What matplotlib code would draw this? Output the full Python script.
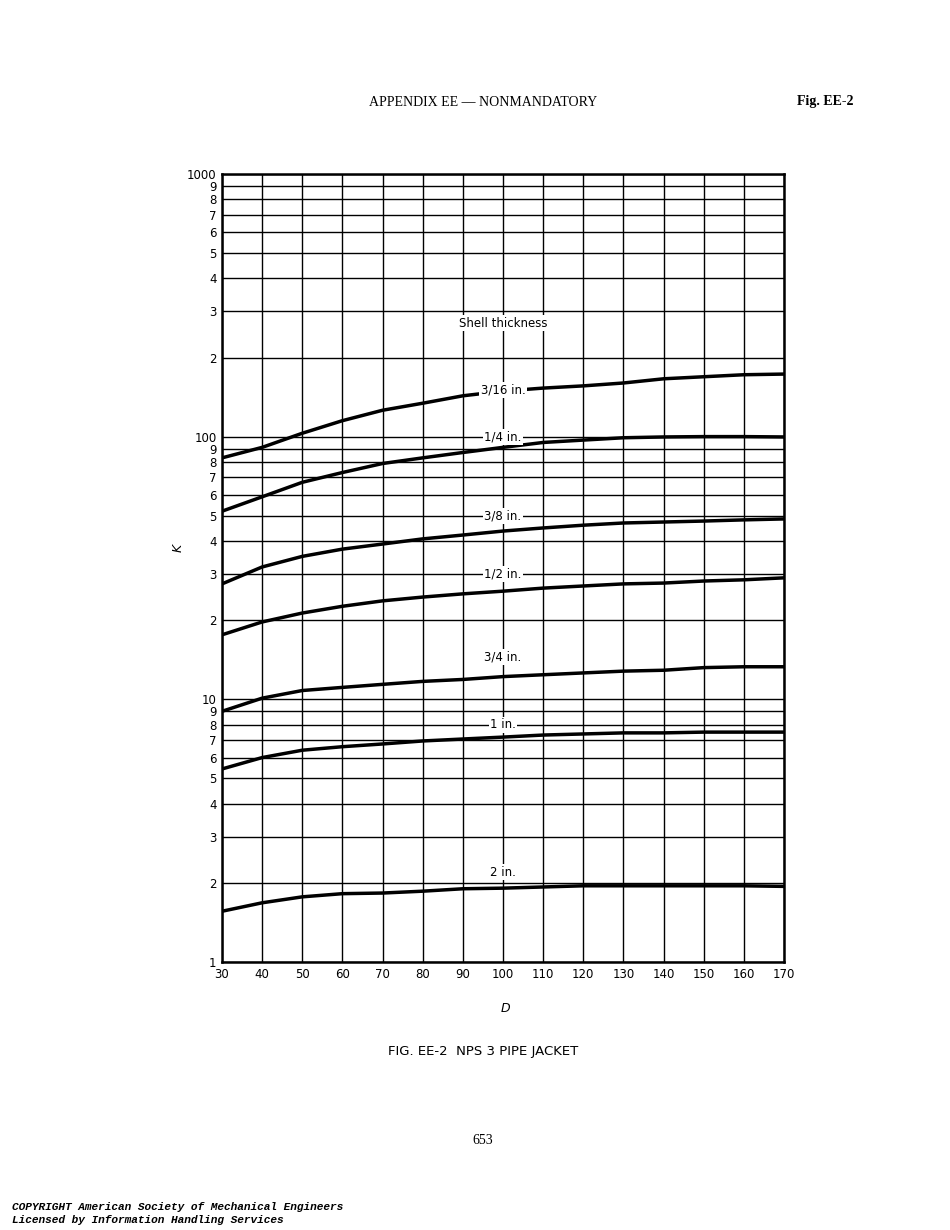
import matplotlib
matplotlib.use("Agg")
import matplotlib.pyplot as plt
import numpy as np

D = [30, 40, 50, 60, 70, 80, 90, 100, 110, 120, 130, 140, 150, 160, 170]
k_3_16 = [83, 91, 103, 115, 126, 134, 143, 149, 153, 156, 160, 166, 169, 172, 173]
k_1_4 = [52, 59, 67, 73, 79, 83, 87, 91, 95, 97, 99, 99.7, 100, 100, 99.7]
k_3_8 = [27.5, 31.9, 35, 37.3, 39, 40.8, 42.2, 43.7, 44.9, 46, 46.9, 47.3, 47.7, 48.2, 48.6]
k_1_2 = [17.6, 19.7, 21.3, 22.6, 23.7, 24.5, 25.2, 25.8, 26.5, 27, 27.5, 27.7, 28.2, 28.5, 29]
k_3_4 = [9.0, 10.1, 10.8, 11.1, 11.4, 11.7, 11.9, 12.2, 12.4, 12.6, 12.8, 12.9, 13.2, 13.3, 13.3]
k_1 = [5.43, 6.0, 6.4, 6.6, 6.76, 6.94, 7.06, 7.18, 7.31, 7.38, 7.45, 7.45, 7.5, 7.5, 7.5]
k_2 = [1.56, 1.68, 1.77, 1.82, 1.83, 1.86, 1.9, 1.91, 1.93, 1.95, 1.95, 1.95, 1.95, 1.95, 1.94]
series = [("3/16 in.", k_3_16), ("1/4 in.", k_1_4), ("3/8 in.", k_3_8), ("1/2 in.", k_1_2),
          ("3/4 in.", k_3_4), ("1 in.", k_1), ("2 in.", k_2)]
label_y = [150, 100, 50, 30, 14.5, 8.0, 2.2]
x_ticks = [30, 40, 50, 60, 70, 80, 90, 100, 110, 120, 130, 140, 150, 160, 170]

fig = plt.figure(figsize=(9.5, 12.3), dpi=100)
ax = fig.add_axes([0.2337, 0.2179, 0.5916, 0.6407])
ax.set_yscale("log")
ax.set_xlim(30, 170)
ax.set_ylim(1, 1000)

yt = []
for dec in [1, 10, 100]:
    for m in range(1, 10):
        yt.append(dec * m)
yt.append(1000)
ax.set_yticks(yt)
ax.set_yticks([], minor=True)
lbls = []
for v in yt:
    s = str(v)
    lbls.append(s if s in ("1", "10", "100", "1000") else s[0])
ax.set_yticklabels(lbls)
ax.set_xticks(x_ticks)
ax.set_xticklabels([str(v) for v in x_ticks])
ax.grid(True, which="major", color="black", lw=1.0)
ax.tick_params(length=0, labelsize=8.5, pad=4)
for s in ax.spines.values():
    s.set_linewidth(1.8)

for (name, vals), ly in zip(series, label_y):
    ax.plot(D, vals, color="black", lw=2.5, solid_capstyle="butt")
    ax.text(100, ly, name, ha="center", va="center", fontsize=8.5,
            bbox=dict(facecolor="white", edgecolor="none", pad=1))
ax.text(100, 270, "Shell thickness", ha="center", va="center", fontsize=8.5,
        bbox=dict(facecolor="white", edgecolor="none", pad=1))

fig.text(178/950, 1 - 548/1230, "K", rotation=90, style="italic", ha="center", va="center", fontsize=9)
fig.text(505/950, 1 - 1008/1230, "D", style="italic", ha="center", va="center", fontsize=9)
fig.text(483/950, 1 - 102/1230, "APPENDIX EE — NONMANDATORY", family="Liberation Serif",
         ha="center", va="center", fontsize=10)
fig.text(825/950, 1 - 102/1230, "Fig. EE-2", family="Liberation Serif", weight="bold",
         ha="center", va="center", fontsize=10)
fig.text(483/950, 1 - 1051/1230, "FIG. EE-2  NPS 3 PIPE JACKET", family="DejaVu Sans",
         ha="center", va="center", fontsize=9.5)
fig.text(483/950, 1 - 1141/1230, "653", family="Liberation Serif", ha="center", va="center", fontsize=10)
fig.text(12/950, 1 - 1207/1230, "COPYRIGHT American Society of Mechanical Engineers",
         family="Liberation Mono", weight="bold", style="italic", ha="left", va="center", fontsize=8)
fig.text(12/950, 1 - 1220/1230, "Licensed by Information Handling Services",
         family="Liberation Mono", weight="bold", style="italic", ha="left", va="center", fontsize=8)

fig.savefig("out.png", dpi=100)
